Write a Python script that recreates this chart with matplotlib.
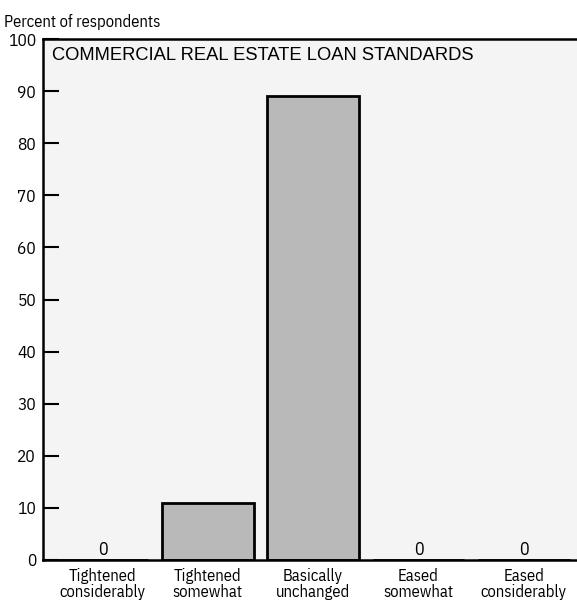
import matplotlib
matplotlib.use("Agg")
import matplotlib.pyplot as plt

# survey responses, percent of respondents
categories = [
    "Tightened\nconsiderably",
    "Tightened\nsomewhat",
    "Basically\nunchanged",
    "Eased\nsomewhat",
    "Eased\nconsiderably",
]
percents = [0, 11, 89, 0, 0]
y_ticks = list(range(0, 101, 10))

title = "COMMERCIAL REAL ESTATE LOAN STANDARDS"
y_caption = "Percent of respondents"

narrow = ["IBM Plex Sans Condensed", "DejaVu Sans"]
plain = ["Liberation Sans", "DejaVu Sans"]

fig = plt.figure(figsize=(5.77, 6.10), dpi=100)
ax = fig.add_axes([43 / 577, 1 - 560 / 610, 1 - 43 / 577 + 0.01, (560 - 39) / 610])
ax.set_facecolor("#f4f4f4")

x = list(range(len(categories)))
ax.bar(x, percents, width=0.87, color="#b9b9b9", edgecolor="black", linewidth=2.0, zorder=2)

# value labels sit on the axis for the empty categories
for xi, v in zip(x, percents):
    if v == 0:
        ax.text(xi, 1.0, str(v), ha="center", va="baseline",
                fontsize=13, family=narrow, zorder=3)

ax.set_xlim(-0.565, 4.56)
ax.set_ylim(0, 100)
ax.set_yticks(y_ticks)
ax.set_yticklabels([str(t) for t in y_ticks], family=narrow, fontsize=12.5)
ax.set_xticks(x)
ax.set_xticklabels(categories, family=narrow, fontsize=12, linespacing=1.0)

ax.tick_params(axis="y", direction="in", length=11.5, width=1.5, pad=5)
ax.tick_params(axis="x", length=0, pad=6)

for side in ["left", "top", "bottom"]:
    ax.spines[side].set_linewidth(1.8)
ax.spines["right"].set_visible(False)

ax.text(0.016, 0.985, title, transform=ax.transAxes, ha="left", va="top",
        fontsize=13.2, family=plain)
fig.text(4 / 577, 1 - 27 / 610, y_caption, ha="left", va="baseline",
         fontsize=12, family=narrow)

fig.savefig("out.png", dpi=100)
